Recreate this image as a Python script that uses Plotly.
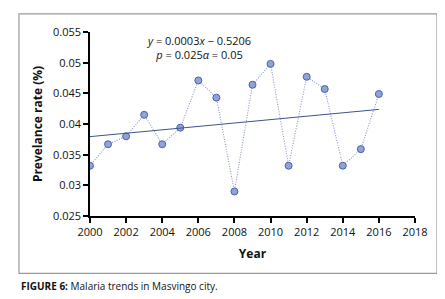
import numpy as np
import plotly.graph_objects as go

years = [2000, 2001, 2002, 2003, 2004, 2005, 2006, 2007, 2008,
         2009, 2010, 2011, 2012, 2013, 2014, 2015, 2016]
prevalence = [0.0332, 0.0367, 0.0380, 0.0415, 0.0367, 0.0394, 0.0471, 0.0443, 0.0290,
              0.0464, 0.0498, 0.0332, 0.0477, 0.0457, 0.0332, 0.0359, 0.0449]
x_ticks = list(range(2000, 2019, 2))
y_ticks = [0.025, 0.03, 0.035, 0.04, 0.045, 0.05, 0.055]
y_ticklabels = ["0.025", "0.03", "0.035", "0.04", "0.045", "0.05", "0.055"]

slope, intercept = np.polyfit(years, prevalence, 1)
trend_x = [years[0], years[-1]]
trend_y = [slope * v + intercept for v in trend_x]

fig = go.Figure()
fig.add_trace(go.Scatter(
    x=years, y=prevalence, mode="lines+markers",
    line=dict(color="#8797C8", width=1.1, dash="1px,1.5px"),
    marker=dict(size=7, color="#8FA2DA", line=dict(color="#4C62A6", width=1)),
    showlegend=False))
fig.add_trace(go.Scatter(
    x=trend_x, y=trend_y, mode="lines",
    line=dict(color="#3E5486", width=1), showlegend=False))

font_sans = "Open Sans, Liberation Sans, sans-serif"
fig.update_layout(
    width=445, height=299,
    margin=dict(l=82, r=38, t=24, b=91),
    paper_bgcolor="white", plot_bgcolor="white",
    font=dict(family=font_sans, size=11, color="#111"),
    xaxis=dict(range=[2000, 2018], tickvals=x_ticks, ticks="outside", ticklen=5,
               tickwidth=1.5, tickcolor="black", showline=True, linecolor="black",
               linewidth=1.5, showgrid=False, zeroline=False,
               tickfont=dict(size=11, color="#111"),
               title=dict(text="<b>Year</b>", font=dict(size=12), standoff=12)),
    yaxis=dict(range=[0.025, 0.055], tickvals=y_ticks, ticktext=y_ticklabels,
               ticks="outside", ticklen=5, tickwidth=1.5, tickcolor="black",
               showline=True, linecolor="black", linewidth=1.5, showgrid=False,
               zeroline=False, tickfont=dict(size=11, color="#111"),
               title=dict(text="<b>Prevelance rate (%)</b>", font=dict(size=12), standoff=8)),
    shapes=[dict(type="rect", xref="paper", yref="paper",
                 x0=-0.2185, x1=1.0677, y0=-0.312, y1=1.098,
                 line=dict(color="#9a9a9a", width=1.2), layer="below")],
    annotations=[
        dict(xref="paper", yref="paper", x=(190 - 82) / 325, y=(207.7 - 39) / 183.7,
             text="<i>y</i> = 0.0003<i>x</i> − 0.5206<br><i>p</i> = 0.025<i>α</i> = 0.05",
             showarrow=False, font=dict(size=11, family=font_sans, color="#111"),
             align="center", xanchor="center", yanchor="middle"),
        dict(xref="paper", yref="paper", x=(11 - 82) / 325, y=(207.7 - 278) / 183.7,
             text="<b>FIGURE 6:</b> Malaria trends in Masvingo city.",
             showarrow=False, font=dict(size=10, family=font_sans, color="#111"),
             xanchor="left", yanchor="middle"),
    ],
)
fig.write_html("out.html")
